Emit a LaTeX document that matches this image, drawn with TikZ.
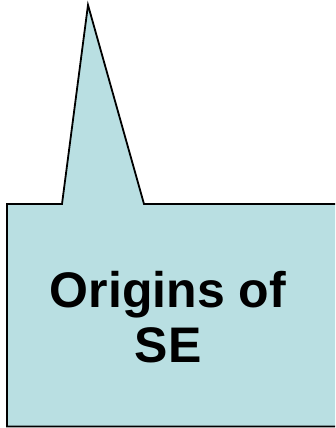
\documentclass[tikz,border=0pt]{standalone}
\usepackage{fontspec}
\setmainfont{Liberation Sans}
\definecolor{calloutfill}{HTML}{B9DFE2}
\begin{document}
\begin{tikzpicture}[x=1pt,y=1pt,
  callout/.style={fill=calloutfill,draw=black,line width=1.8pt,line join=miter},
  label/.style={font=\fontsize{50}{55}\selectfont\bfseries,align=center,text=black}]
\useasboundingbox (0,0) rectangle (335,428);
\clip (0,0) rectangle (335,428);
\draw[callout] (7,1.5) -- (7,224) -- (62,224) -- (88,423) -- (144,224) -- (345,224) -- (345,1.5) -- cycle;
\node[label] (txt) at (168,111) {Origins of\\SE};
\end{tikzpicture}
\end{document}
